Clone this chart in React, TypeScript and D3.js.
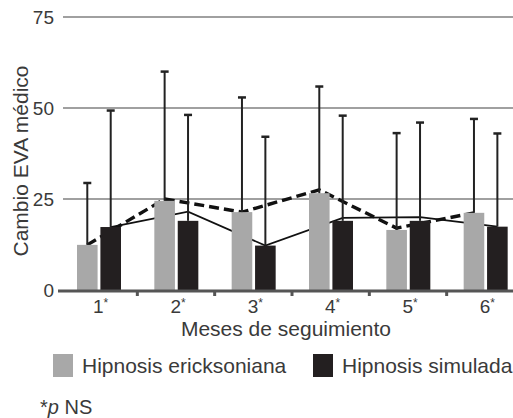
import React, { useEffect, useRef } from 'react';
import * as d3 from 'd3';

const months = ['1', '2', '3', '4', '5', '6'];
const seriesNames = ['Hipnosis ericksoniana', 'Hipnosis simulada'];
const ericksoniana = [12.4, 24.5, 21.4, 26.6, 16.5, 21.2];
const simulada = [17.3, 19, 12.2, 19, 19, 17.4];
const ericksonianaErr = [29.4, 60, 52.9, 55.9, 43.1, 47];
const simuladaErr = [49.3, 48.1, 42.1, 47.9, 46, 43];
const ericksonianaLine = [12.4, 25, 21.4, 27.5, 17, 21.2];
const simuladaLine = [17.3, 21.5, 12.2, 19.8, 20, 17.4];
const yTicks = [0, 25, 50, 75];

const App = () => {
  const ref = useRef<SVGSVGElement>(null);

  useEffect(() => {
    const svg = d3.select(ref.current);
    svg.selectAll('*').remove();

    const font = 'Liberation Sans, Arial, sans-serif';
    const textColor = '#3a3a3a';
    const colors = ['#a8a8a8', '#231f20'];

    // escalas
    const x0 = d3.scaleBand().domain(months).range([60, 524]).paddingInner(0);
    const x1 = d3.scaleBand().domain(seriesNames).range([17, 61]).paddingInner(0.12);
    const y = d3.scaleLinear().domain([0, 75]).range([290, 17]);

    // rejilla
    svg.selectAll('.grid')
      .data(yTicks.filter(d => d > 0))
      .enter()
      .append('line')
      .attr('x1', 63)
      .attr('x2', 513)
      .attr('y1', d => y(d))
      .attr('y2', d => y(d))
      .attr('stroke', '#a0a0a0')
      .attr('stroke-width', 2.2);

    svg.selectAll('.ytick')
      .data(yTicks)
      .enter()
      .append('text')
      .attr('x', 54)
      .attr('y', d => y(d))
      .attr('dy', '0.36em')
      .attr('text-anchor', 'end')
      .attr('font-family', font)
      .attr('font-size', 19)
      .attr('fill', textColor)
      .text(d => d);

    const series = [
      { name: seriesNames[0], vals: ericksoniana, err: ericksonianaErr, line: ericksonianaLine, dash: '10,5', w: 3.4 },
      { name: seriesNames[1], vals: simulada, err: simuladaErr, line: simuladaLine, dash: null, w: 1.8 },
    ];

    const cx = (m: string, s: string) => (x0(m) as number) + (x1(s) as number) + x1.bandwidth() / 2;

    // lineas detras de las barras
    series.forEach(s => {
      const line = d3.line<number>()
        .x((d, i) => cx(months[i], s.name))
        .y(d => y(d));
      svg.append('path')
        .datum(s.line)
        .attr('d', line)
        .attr('fill', 'none')
        .attr('stroke', '#111')
        .attr('stroke-width', s.w)
        .attr('stroke-dasharray', s.dash);
    });

    // barras
    series.forEach((s, k) => {
      svg.append('g')
        .selectAll('rect')
        .data(s.vals)
        .enter()
        .append('rect')
        .attr('x', (d, i) => (x0(months[i]) as number) + (x1(s.name) as number))
        .attr('y', d => y(d))
        .attr('width', x1.bandwidth())
        .attr('height', d => y(0) - y(d))
        .attr('fill', colors[k]);
    });

    // barras de error
    series.forEach(s => {
      const g = svg.append('g').attr('stroke', '#222').attr('stroke-width', 2);
      s.err.forEach((e, i) => {
        const xc = cx(months[i], s.name);
        g.append('line').attr('x1', xc).attr('x2', xc).attr('y1', y(s.vals[i])).attr('y2', y(e));
        g.append('line').attr('x1', xc - 4).attr('x2', xc + 4).attr('y1', y(e)).attr('y2', y(e)).attr('stroke-width', 2.5);
      });
    });

    // eje x
    svg.append('line')
      .attr('x1', 58)
      .attr('x2', 513)
      .attr('y1', y(0) + 1)
      .attr('y2', y(0) + 1)
      .attr('stroke', '#555')
      .attr('stroke-width', 3);

    svg.selectAll('.xtick')
      .data(months.slice(1).concat(['end']))
      .enter()
      .append('line')
      .attr('x1', (d, i) => (x0(months[0]) as number) + (i + 1) * x0.step())
      .attr('x2', (d, i) => (x0(months[0]) as number) + (i + 1) * x0.step())
      .attr('y1', y(0))
      .attr('y2', y(0) + 6)
      .attr('stroke', '#555')
      .attr('stroke-width', 3);

    const xl = svg.selectAll('.xlab')
      .data(months)
      .enter()
      .append('text')
      .attr('x', d => (x0(d) as number) + x0.bandwidth() / 2 + 2)
      .attr('y', 313)
      .attr('text-anchor', 'middle')
      .attr('font-family', font)
      .attr('font-size', 19)
      .attr('fill', textColor);
    xl.append('tspan').text(d => d);
    xl.append('tspan').attr('font-size', 12).attr('dy', -6).text('*');

    // titulos
    svg.append('text')
      .attr('transform', 'translate(28, 161) rotate(-90)')
      .attr('text-anchor', 'middle')
      .attr('font-family', font)
      .attr('font-size', 21)
      .attr('fill', textColor)
      .text('Cambio EVA médico');

    svg.append('text')
      .attr('x', 286)
      .attr('y', 336)
      .attr('text-anchor', 'middle')
      .attr('font-family', font)
      .attr('font-size', 21)
      .attr('fill', textColor)
      .text('Meses de seguimiento');

    // leyenda
    const legendX = [53, 313];
    seriesNames.forEach((n, k) => {
      svg.append('rect')
        .attr('x', legendX[k])
        .attr('y', 354)
        .attr('width', 20)
        .attr('height', 23)
        .attr('fill', colors[k]);
      svg.append('text')
        .attr('x', legendX[k] + 29)
        .attr('y', 373)
        .attr('font-family', font)
        .attr('font-size', 21)
        .attr('fill', textColor)
        .text(n);
    });

    const note = svg.append('text')
      .attr('x', 40)
      .attr('y', 414)
      .attr('font-family', font)
      .attr('font-size', 20)
      .attr('fill', textColor);
    note.append('tspan').text('*');
    note.append('tspan').attr('font-style', 'italic').text('p');
    note.append('tspan').text(' NS');
  }, []);

  return (
    <svg
      ref={ref}
      width={513}
      height={418}
      style={{ position: 'absolute', left: 0, top: 0, background: '#fff' }}
    />
  );
};

export default App;
